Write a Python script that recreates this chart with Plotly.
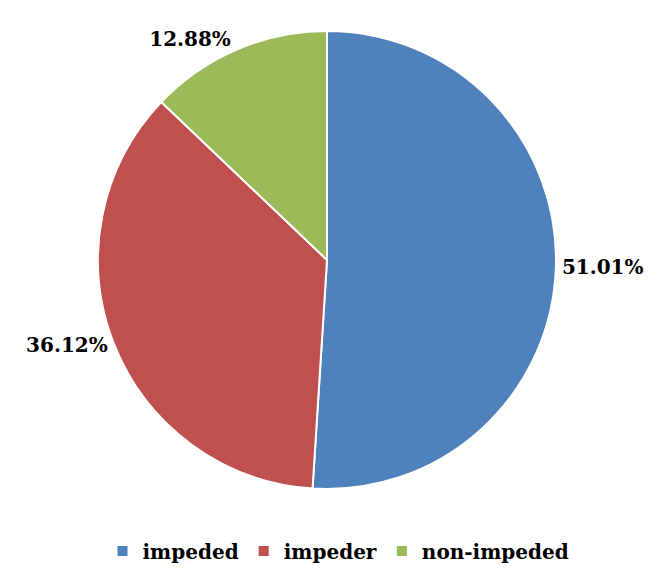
import plotly.graph_objects as go

labels = ["impeded", "impeder", "non-impeded"]
values = [51.01, 36.12, 12.88]
colors = ["#4F81BD", "#C0504D", "#9BBB59"]

W, H = 661, 583
FONT = "DejaVu Serif"
dx, dy = -7, -7
fig = go.Figure(go.Pie(
    labels=labels,
    values=values,
    sort=False,
    direction="clockwise",
    rotation=0,
    marker=dict(colors=colors, line=dict(color="white", width=2)),
    texttemplate="<b>%{value:.2f}%</b>",
    textposition="outside",
    textfont=dict(family=FONT, size=20, color="black"),
    domain=dict(x=[(97 + dx) / W, (555 + dx) / W], y=[(H - 488 - dy) / H, (H - 30 - dy) / H]),
    hoverinfo="label+value",
))
fig.update_layout(
    width=W, height=H,
    margin=dict(l=0, r=0, t=0, b=0),
    paper_bgcolor="white",
    font=dict(family=FONT, size=20, color="black"),
    legend=dict(orientation="h", x=0.5, xanchor="center", y=0.035, yanchor="bottom",
                font=dict(family=FONT, size=20, color="black", weight="bold"),
                itemwidth=30, tracegroupgap=0),
    showlegend=True,
)
fig.write_html("out.html")
